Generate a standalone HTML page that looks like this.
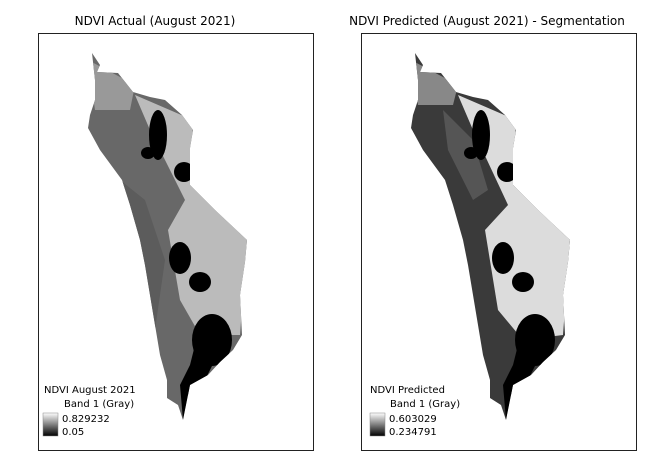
<!DOCTYPE html>
<html><head><style>
body{margin:0;background:#fff;width:669px;height:473px;overflow:hidden}
svg{display:block}
text{font-family:"DejaVu Sans","Liberation Sans",sans-serif}
</style></head><body>
<svg width="669" height="473" viewBox="0 0 669 473">
<defs>
<path id="shape" d="M92,53 L100,65 L97,72 L118,73 L133,92 L150,97 L165,100 L182,115 L193,130 L190,148 L190,185 L215,210 L247,240 L245,262 L240,295 L242,335 L233,350 L220,362 L208,375 L190,385 L185,410 L183,420 L178,405 L167,398 L167,380 L160,355 L155,325 L150,295 L145,265 L140,240 L130,205 L122,180 L100,150 L88,128 L90,115 L95,100 L95,80 Z"/>
<clipPath id="c"><use href="#shape"/></clipPath>
<linearGradient id="g" x1="0" y1="0" x2="0" y2="1"><stop offset="0" stop-color="#fff"/><stop offset="1" stop-color="#000"/></linearGradient>
</defs>

<text x="155" y="25" font-size="12" text-anchor="middle">NDVI Actual (August 2021)</text>
<rect x="38.5" y="33.5" width="275" height="417" fill="none" stroke="#222"/>
<g clip-path="url(#c)">
<rect x="80" y="50" width="180" height="380" fill="#686868"/>
<path d="M88,60 L135,85 L130,110 L95,110Z" fill="#999"/>
<path d="M135,95 L193,120 L190,185 L247,240 L240,335 L200,335 L180,300 L168,230 L185,200 L150,130Z" fill="#bbb"/>
<path d="M120,180 L145,200 L165,260 L155,330 L140,300Z" fill="#5c5c5c"/>
<ellipse cx="158" cy="135" rx="9" ry="25" fill="#000"/>
<ellipse cx="148" cy="153" rx="7" ry="6" fill="#000"/>
<ellipse cx="184" cy="172" rx="10" ry="10" fill="#000"/>
<ellipse cx="180" cy="258" rx="11" ry="16" fill="#000"/>
<ellipse cx="200" cy="282" rx="11" ry="10" fill="#000"/>
<ellipse cx="212" cy="340" rx="20" ry="26" fill="#000"/>
<path d="M195,345 L215,360 L205,380 L188,395 L183,420 L180,385 L190,365Z" fill="#000"/>
</g>
<text x="44" y="393" font-size="10">NDVI August 2021</text>
<text x="64" y="407" font-size="10">Band 1 (Gray)</text>
<rect x="43" y="413" width="15" height="23" fill="url(#g)" stroke="#888" stroke-width="0.5"/>
<text x="62" y="422" font-size="10">0.829232</text>
<text x="62" y="435" font-size="10">0.05</text>

<text x="487" y="25" font-size="12" text-anchor="middle">NDVI Predicted (August 2021) - Segmentation</text>
<rect x="361.5" y="33.5" width="275" height="417" fill="none" stroke="#222"/>
<g transform="translate(323,0)">
<g clip-path="url(#c)">
<rect x="80" y="50" width="180" height="380" fill="#3a3a3a"/>
<path d="M88,60 L135,85 L130,105 L95,105Z" fill="#888"/>
<path d="M135,95 L193,120 L190,185 L247,240 L240,335 L200,340 L175,310 L162,230 L185,205 L150,130Z" fill="#dcdcdc"/>
<path d="M120,110 L150,140 L165,190 L150,200 L125,150Z" fill="#555"/>
<ellipse cx="158" cy="135" rx="9" ry="25" fill="#000"/>
<ellipse cx="148" cy="153" rx="7" ry="6" fill="#000"/>
<ellipse cx="184" cy="172" rx="10" ry="10" fill="#000"/>
<ellipse cx="180" cy="258" rx="11" ry="16" fill="#000"/>
<ellipse cx="200" cy="282" rx="11" ry="10" fill="#000"/>
<ellipse cx="212" cy="340" rx="20" ry="26" fill="#000"/>
<path d="M195,345 L215,360 L205,380 L188,395 L183,420 L180,385 L190,365Z" fill="#000"/>
</g>
</g>
<text x="370" y="393" font-size="10">NDVI Predicted</text>
<text x="390" y="407" font-size="10">Band 1 (Gray)</text>
<rect x="370" y="413" width="15" height="23" fill="url(#g)" stroke="#888" stroke-width="0.5"/>
<text x="389" y="422" font-size="10">0.603029</text>
<text x="389" y="435" font-size="10">0.234791</text>
</svg>
</body></html>
